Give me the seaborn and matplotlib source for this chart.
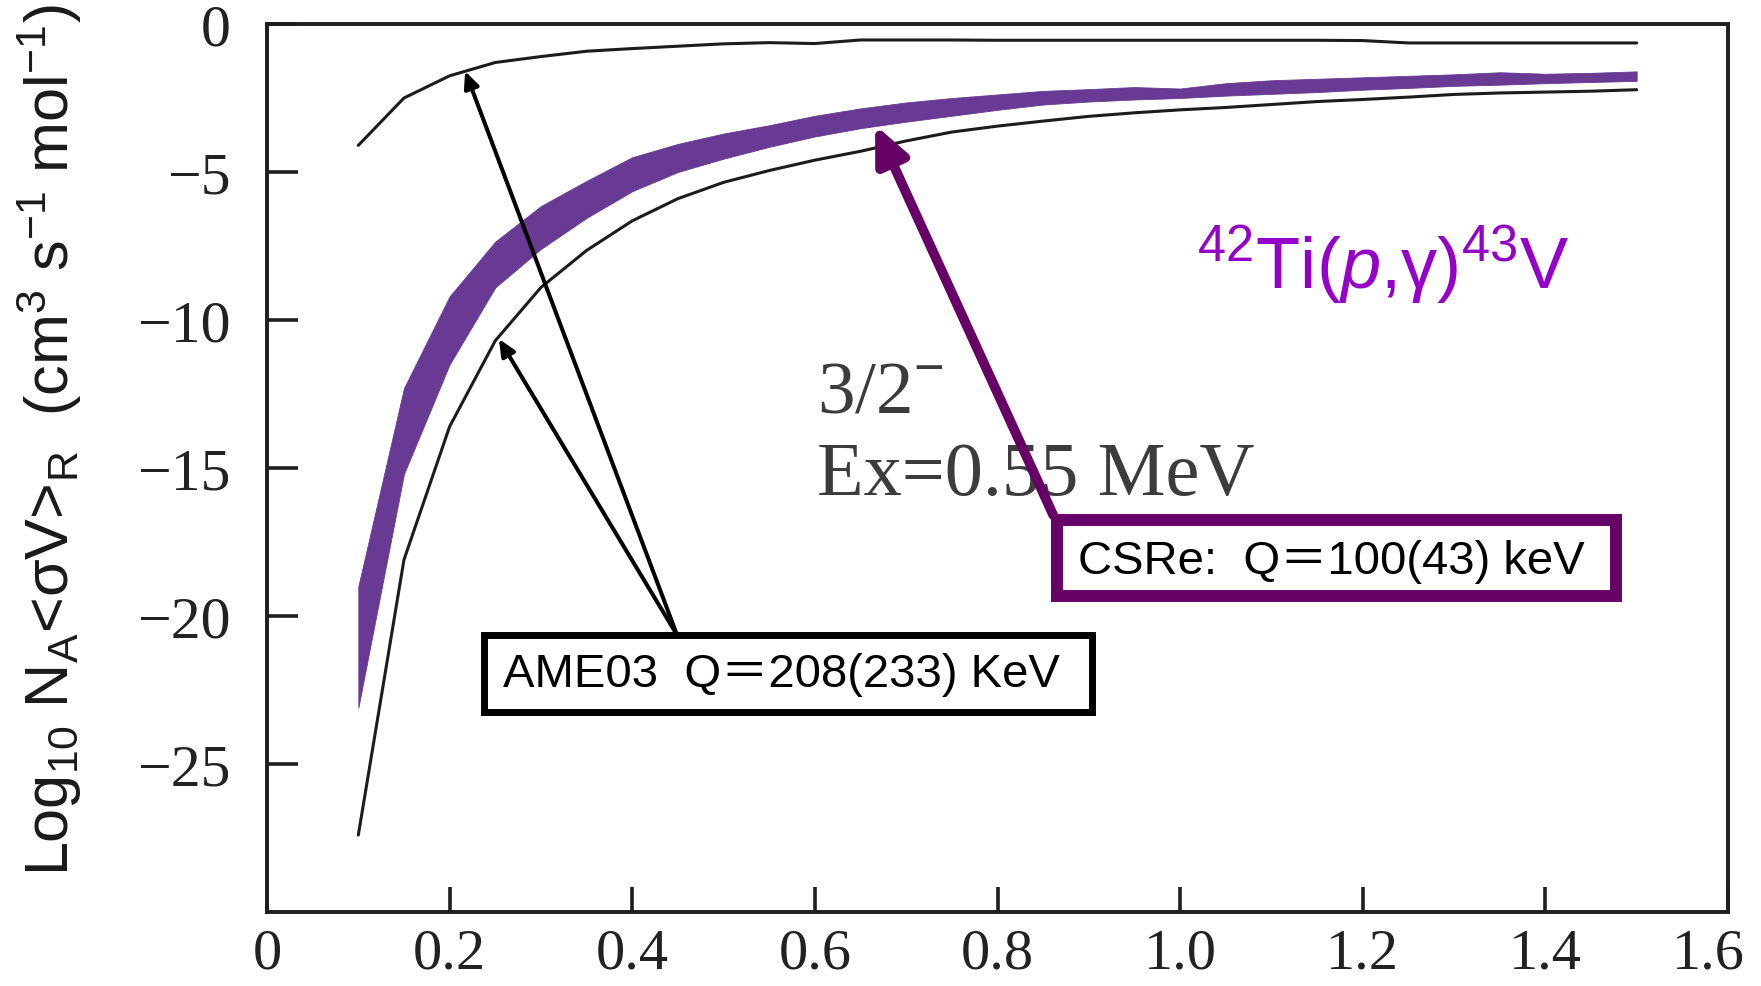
import matplotlib
matplotlib.use("Agg")
import matplotlib.pyplot as plt
from matplotlib.patches import Rectangle
from matplotlib.transforms import ScaledTranslation
import pandas as pd
import seaborn as sns

# Temperature grid (T9) and log10 reaction rates for 42Ti(p,gamma)43V
temperature = [0.10, 0.15, 0.20, 0.25, 0.30, 0.35, 0.40, 0.45, 0.50, 0.55,
               0.60, 0.65, 0.70, 0.75, 0.80, 0.85, 0.90, 0.95, 1.00, 1.05,
               1.10, 1.15, 1.20, 1.25, 1.30, 1.35, 1.40, 1.45, 1.50]

# AME03 Q-value limits (upper and lower rate curves)
ame03_upper = [-4.10, -2.50, -1.75, -1.30, -1.10, -0.92, -0.83, -0.75, -0.67, -0.63,
               -0.66, -0.54, -0.54, -0.54, -0.55, -0.55, -0.55, -0.55, -0.55, -0.55,
               -0.55, -0.55, -0.56, -0.64, -0.64, -0.64, -0.64, -0.64, -0.64]
ame03_lower = [-27.4, -18.1, -13.6, -10.7, -8.90, -7.65, -6.65, -5.90, -5.35, -4.95,
               -4.60, -4.30, -3.95, -3.65, -3.45, -3.28, -3.12, -3.00, -2.90, -2.82,
               -2.72, -2.62, -2.55, -2.47, -2.38, -2.33, -2.30, -2.27, -2.22]

# CSRe Q-value band
csre_upper = [-19.0, -12.3, -9.20, -7.35, -6.15, -5.30, -4.50, -4.05, -3.70, -3.42,
              -3.10, -2.85, -2.65, -2.50, -2.38, -2.26, -2.20, -2.13, -2.18, -2.00,
              -1.90, -1.85, -1.80, -1.75, -1.70, -1.63, -1.68, -1.65, -1.60]
csre_lower = [-23.1, -15.2, -11.5, -8.90, -7.60, -6.55, -5.65, -5.00, -4.55, -4.15,
              -3.80, -3.52, -3.30, -3.10, -2.90, -2.72, -2.62, -2.55, -2.50, -2.42,
              -2.36, -2.30, -2.22, -2.16, -2.09, -2.05, -2.00, -1.96, -1.92]

x_ticks = [0, 0.2, 0.4, 0.6, 0.8, 1.0, 1.2, 1.4, 1.6]
x_tick_labels = ["0", "0.2", "0.4", "0.6", "0.8", "1.0", "1.2", "1.4", "1.6"]
y_ticks = [0, -5, -10, -15, -20, -25]
y_tick_labels = ["0", "\u22125", "\u221210", "\u221215", "\u221220", "\u221225"]

sns.set_style("white")
plt.rcParams.update({
    "font.family": ["Liberation Sans", "Noto Sans CJK SC", "DejaVu Sans"],
    "mathtext.fontset": "custom",
    "mathtext.rm": "Liberation Sans",
    "mathtext.it": "Liberation Sans:italic",
    "mathtext.bf": "Liberation Sans:bold",
    "mathtext.sf": "Liberation Sans",
})

df = pd.DataFrame({
    "T9": temperature,
    "ame_hi": ame03_upper,
    "ame_lo": ame03_lower,
    "csre_hi": csre_upper,
    "csre_lo": csre_lower,
})

W, H = 1761, 987
fig = plt.figure(figsize=(W / 100, H / 100), dpi=100)
ax = fig.add_axes([267 / W, 1 - 913 / H, (1728 - 267) / W, (913 - 25) / H])

band_color = "#683A93"
line_color = "#1c1c1c"
dark_purple = "#660066"

ax.fill_between(df["T9"], df["csre_lo"], df["csre_hi"], color=band_color,
                linewidth=0.6, edgecolor=band_color, zorder=2)
sns.lineplot(data=df, x="T9", y="ame_hi", ax=ax, color=line_color, lw=2.2,
             sort=False, estimator=None, zorder=3)
sns.lineplot(data=df, x="T9", y="ame_lo", ax=ax, color=line_color, lw=2.2,
             sort=False, estimator=None, zorder=3)

ax.set_xlim(0, 1.6)
ax.set_ylim(-30, 0)

# Axis frame and ticks
for side in ["left", "right", "top", "bottom"]:
    ax.spines[side].set_visible(True)
    ax.spines[side].set_color("#1e1e1e")
    ax.spines[side].set_linewidth(2.8)

ax.set_xticks(x_ticks)
ax.set_xticklabels(x_tick_labels, family="Liberation Serif", fontsize=42, color="#222222")
ax.set_yticks(y_ticks)
ax.set_yticklabels(y_tick_labels, family="Liberation Serif", fontsize=43, color="#222222")
ax.tick_params(axis="x", direction="in", length=18, width=2.6, color="#1e1e1e",
               pad=11, bottom=True, top=False)
ax.tick_params(axis="y", direction="in", length=22, width=2.6, color="#1e1e1e",
               pad=26, left=True, right=False)

# keep the last x label inside the canvas
last_label = ax.get_xticklabels()[-1]
last_label.set_transform(last_label.get_transform()
                         + ScaledTranslation(-0.2, 0, fig.dpi_scale_trans))

ax.set_xlabel("")
ax.set_ylabel("Log$_{10}$ N$_\\mathrm{A}$<\u03c3V>$_\\mathrm{R}$  (cm$^{3}$ s$^{-1}$ mol$^{-1}$)",
              fontsize=44, color="#1a1a1a")
ax.yaxis.label.set_verticalalignment("center")
ax.yaxis.label.set_rotation_mode("default")
ax.yaxis.set_label_coords((49 - 267) / (1728 - 267), (913 - 440) / (913 - 25))

# Level information
ax.text(0.602, -13.1, "3/2$^{-}$", family="Liberation Serif", fontsize=54,
        color="#3c3c3c", va="baseline", ha="left", zorder=4)
ax.text(0.602, -15.88, "Ex=0.55 MeV", family="Liberation Serif", fontsize=55,
        color="#3c3c3c", va="baseline", ha="left", zorder=4)

# Reaction label
ax.text(1.019, -8.89, "$^{42}$Ti($p$,\u03b3)$^{43}$V", fontsize=52, color="#9400C8",
        va="baseline", ha="left", zorder=4)

# AME03 annotation box with arrows to both limiting curves
ax.add_patch(Rectangle((0.2371, -23.26), 0.9030 - 0.2371, 23.26 - 20.625,
                       facecolor="white", edgecolor="black", lw=5, zorder=6))
ax.text(0.2585, -21.96, "AME03  Q\uff1d208(233) KeV", fontsize=34, color="black",
        va="center", ha="left", zorder=7)
for tip in [(0.217, -1.59), (0.254, -10.64)]:
    ax.annotate("", xy=tip, xytext=(0.449, -20.64),
                arrowprops=dict(arrowstyle="-|>,head_length=10,head_width=4.5",
                                mutation_scale=1, color="black", lw=2.9,
                                shrinkA=0, shrinkB=0),
                zorder=5)

# CSRe annotation box with arrow to the band
ax.add_patch(Rectangle((0.8652, -19.32), 1.4774 - 0.8652, 19.32 - 16.76,
                       facecolor="white", edgecolor=dark_purple, lw=8.6, zorder=6))
ax.text(0.888, -18.14, "CSRe:  Q\uff1d100(43) keV", fontsize=34, color="black",
        va="center", ha="left", zorder=7)
ax.annotate("", xy=(0.666, -3.41), xytext=(0.861, -16.59),
            arrowprops=dict(arrowstyle="-|>,head_length=22,head_width=10",
                            mutation_scale=1, color=dark_purple, lw=7,
                            shrinkA=0, shrinkB=0),
            zorder=5)

fig.savefig("out.png", dpi=100, facecolor="white")
